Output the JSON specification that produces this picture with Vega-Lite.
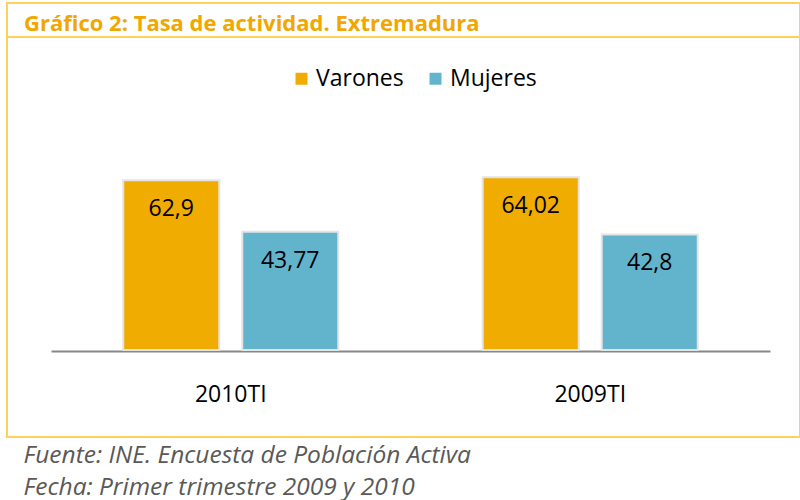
{
  "$schema": "https://vega.github.io/schema/vega-lite/v6.json",
  "width": 793,
  "height": 434,
  "autosize": {"type": "none"},
  "padding": {"left": 7, "top": 3, "right": 0, "bottom": 63},
  "background": "white",
  "title": {
    "text": "Gráfico 2: Tasa de actividad. Extremadura",
    "anchor": "start",
    "frame": "group",
    "dx": 17,
    "offset": -50,
    "baseline": "alphabetic",
    "font": "Open Sans",
    "fontSize": 22,
    "fontWeight": "bold",
    "color": "#F0A800"
  },
  "data": {
    "values": [
      {"periodo": "2010TI", "sexo": "Varones", "tasa": 62.9},
      {"periodo": "2010TI", "sexo": "Mujeres", "tasa": 43.77},
      {"periodo": "2009TI", "sexo": "Varones", "tasa": 64.02},
      {"periodo": "2009TI", "sexo": "Mujeres", "tasa": 42.8}
    ]
  },
  "layer": [
    {
      "mark": {"type": "bar", "stroke": "#e4e4e4", "strokeWidth": 2},
      "encoding": {
        "x": {
          "field": "periodo",
          "type": "nominal",
          "sort": ["2010TI", "2009TI"],
          "scale": {"range": [44, 763], "paddingInner": 0, "paddingOuter": 0},
          "axis": {
            "orient": "bottom",
            "offset": -86,
            "domainColor": "#878787",
            "domainWidth": 2,
            "ticks": false,
            "tickSize": 0,
            "grid": false,
            "labelFont": "Open Sans",
            "labelFontSize": 23,
            "labelColor": "black",
            "labelBaseline": "alphabetic",
            "labelPadding": 50,
            "labelAngle": 0,
            "title": ["Fuente: INE. Encuesta de Población Activa", "Fecha: Primer trimestre 2009 y 2010"],
            "titleX": 16,
            "titleY": 111,
            "titleAlign": "left",
            "titleAnchor": "start",
            "titleBaseline": "alphabetic",
            "titleAngle": 0,
            "titleFont": "Open Sans",
            "titleFontSize": 24.5,
            "titleFontStyle": "italic",
            "titleFontWeight": "normal",
            "titleColor": "#595959",
            "titleLineHeight": 32
          }
        },
        "xOffset": {
          "field": "sexo",
          "type": "nominal",
          "sort": ["Varones", "Mujeres"],
          "scale": {"paddingInner": 0.193, "paddingOuter": 0.607}
        },
        "y": {
          "field": "tasa",
          "type": "quantitative",
          "scale": {"domain": [0, 70], "range": [347, 158]},
          "axis": null
        },
        "color": {
          "field": "sexo",
          "type": "nominal",
          "sort": ["Varones", "Mujeres"],
          "scale": {"domain": ["Varones", "Mujeres"], "range": ["#F0AC00", "#62B4CD"]},
          "legend": {
            "orient": "none",
            "legendX": 283,
            "legendY": 64,
            "direction": "horizontal",
            "title": null,
            "symbolType": "square",
            "symbolSize": 144,
            "symbolStrokeWidth": 0,
            "labelFont": "Open Sans",
            "labelFontSize": 23,
            "labelColor": "black",
            "labelOffset": 3,
            "columnPadding": 20,
            "padding": 0
          }
        }
      }
    },
    {
      "mark": {"type": "text", "baseline": "middle", "align": "center", "dy": 29, "font": "Open Sans", "fontSize": 23, "color": "black"},
      "encoding": {
        "x": {"field": "periodo", "type": "nominal", "sort": ["2010TI", "2009TI"]},
        "xOffset": {"field": "sexo", "type": "nominal", "sort": ["Varones", "Mujeres"]},
        "y": {"field": "tasa", "type": "quantitative"},
        "text": {"field": "tasa", "type": "quantitative", "format": ".4~r"}
      }
    },
    {
      "data": {"values": [{}]},
      "mark": {"type": "rule", "color": "#FFD15C", "strokeWidth": 2},
      "encoding": {"y": {"datum": 115.93, "type": "quantitative"}}
    }
  ],
  "config": {
    "view": {"stroke": "#FFD15C", "strokeWidth": 2},
    "locale": {
      "number": {"decimal": ",", "thousands": ".", "grouping": [3], "currency": ["", " €"]}
    }
  }
}
